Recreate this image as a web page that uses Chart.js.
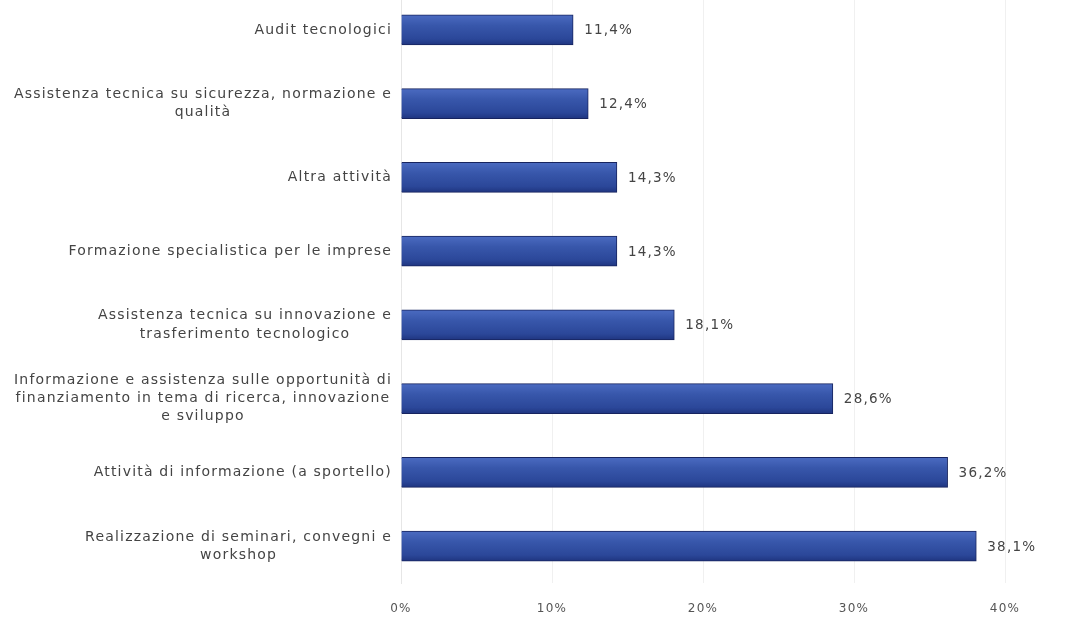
<!DOCTYPE html>
<html>
<head>
<meta charset="utf-8">
<script src="https://cdn.jsdelivr.net/npm/chart.js@4.4.1/dist/chart.umd.min.js"></script>
<style>
  html, body { margin: 0; padding: 0; background: #fff; overflow: hidden; }
  #wrap { position: absolute; left: 0; top: -7px; width: 1067px; height: 629px; }
</style>
</head>
<body>
<div id="wrap"><canvas id="bar-chart"></canvas></div>
<script>
// categories, top to bottom
const categories = [
    ['Audit tecnologici'],
    ['Assistenza tecnica su sicurezza, normazione e', 'qualità'],
    ['Altra attività'],
    ['Formazione specialistica per le imprese'],
    ['Assistenza tecnica su innovazione e', 'trasferimento tecnologico'],
    ['Informazione e assistenza sulle opportunità di', 'finanziamento in tema di ricerca, innovazione', 'e sviluppo'],
    ['Attività di informazione (a sportello)'],
    ['Realizzazione di seminari, convegni e', 'workshop']
];
const values = [11.4, 12.4, 14.3, 14.3, 18.1, 28.6, 36.2, 38.1];
const tickValues = [0, 10, 20, 30, 40];

const FONT = 'DejaVu Sans, sans-serif';

//wide letter spacing like the scanned original
const spacing = {
    id: 'spacing',
    beforeDraw(chart) {
        chart.ctx.letterSpacing = '1.2px';
    }
};

//gradient fill for every bar, once positions are known
const barGradient = {
    id: 'barGradient',
    beforeDatasetsDraw(chart) {
        const meta = chart.getDatasetMeta(0);
        meta.data.forEach(function(bar){
            const h = bar.height / 2;
            const g = chart.ctx.createLinearGradient(0, bar.y - h, 0, bar.y + h);
            g.addColorStop(0, '#4b6bc1');
            g.addColorStop(0.35, '#3857ab');
            g.addColorStop(0.8, '#2b4799');
            g.addColorStop(1, '#1f3580');
            bar.options.backgroundColor = g;
        });
    }
};

//category labels: block right aligned, lines centred inside the block
const categoryLabels = {
    id: 'categoryLabels',
    afterDraw(chart) {
        const ctx = chart.ctx;
        const yScale = chart.scales.y;
        const right = yScale.right - 9;
        const lh = 18.2;
        ctx.save();
        ctx.font = '14px ' + FONT;
        ctx.letterSpacing = '1.2px';
        ctx.fillStyle = '#444';
        ctx.textAlign = 'center';
        ctx.textBaseline = 'middle';
        categories.forEach(function(lines, i){
            const y = yScale.getPixelForTick(i);
            const w = Math.max(...lines.map(l => ctx.measureText(l).width));
            const cx = right - w / 2;
            const y0 = y - (lines.length - 1) * lh / 2;
            lines.forEach(function(l, j){
                ctx.fillText(l, cx, y0 + j * lh);
            });
        });
        ctx.restore();
    }
};

//value labels at the end of each bar
const valueLabels = {
    id: 'valueLabels',
    afterDatasetsDraw(chart) {
        const ctx = chart.ctx;
        const meta = chart.getDatasetMeta(0);
        ctx.save();
        ctx.font = '13.5px ' + FONT;
        ctx.letterSpacing = '1.2px';
        ctx.fillStyle = '#444';
        ctx.textAlign = 'left';
        ctx.textBaseline = 'middle';
        meta.data.forEach(function(bar, i){
            const txt = values[i].toFixed(1).replace('.', ',') + '%';
            ctx.fillText(txt, bar.x + 11, bar.y + 1);
        });
        ctx.restore();
    }
};

const ctx = document.getElementById('bar-chart').getContext('2d');

new Chart(ctx, {
    type: 'bar',
    data: {
        labels: categories,
        datasets: [{
            data: values,
            backgroundColor: () => '#3355a5',
            borderColor: '#17245f',
            borderWidth: 1,
            barThickness: 30
        }]
    },
    options: {
        indexAxis: 'y',
        responsive: true,
        maintainAspectRatio: false,
        animation: false,
        layout: { padding: { left: 0, right: 62, top: 0, bottom: 0 } },
        plugins: {
            legend: { display: false },
            tooltip: { enabled: false }
        },
        scales: {
            x: {
                min: 0,
                max: 40,
                afterBuildTicks: function(scale){
                    scale.ticks = tickValues.map(v => ({ value: v }));
                },
                afterFit: function(scale){
                    scale.height = 39;
                    scale.paddingLeft = 0;
                    scale.paddingRight = 0;
                },
                grid: { color: '#f0f0f0', drawTicks: false },
                border: { display: false },
                ticks: {
                    padding: 19,
                    color: '#555',
                    font: { family: FONT, size: 12 },
                    callback: v => v + '%'
                }
            },
            y: {
                afterFit: function(scale){
                    scale.width = 401;
                    scale.paddingTop = 0;
                    scale.paddingBottom = 0;
                },
                grid: { display: false, drawTicks: false },
                border: { color: '#e6e6e6' },
                ticks: { display: false }
            }
        }
    },
    plugins: [spacing, barGradient, valueLabels, categoryLabels]
});
</script>
</body>
</html>
